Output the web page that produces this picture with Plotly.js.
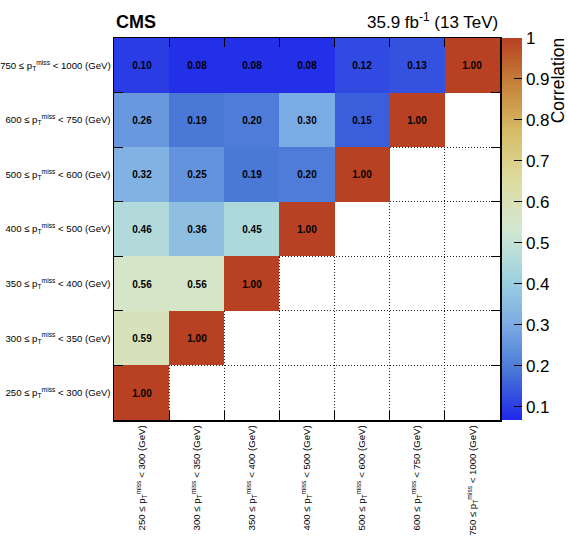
<!DOCTYPE html>
<html>
<head>
<meta charset="utf-8">
<script src="https://cdn.plot.ly/plotly-3.0.1.min.js"></script>
<style>html,body{margin:0;padding:0;background:#fff;}#chart{width:568px;height:553px;}</style>
</head>
<body>
<div id="chart"></div>
<script>
var binLow = [250, 300, 350, 400, 500, 600, 750];
var binHigh = [300, 350, 400, 500, 600, 750, 1000];

// rows: y bins from bottom (250-300) to top (750-1000); columns: x bins
var corrRow0 = [1.00, null, null, null, null, null, null];
var corrRow1 = [0.59, 1.00, null, null, null, null, null];
var corrRow2 = [0.56, 0.56, 1.00, null, null, null, null];
var corrRow3 = [0.46, 0.36, 0.45, 1.00, null, null, null];
var corrRow4 = [0.32, 0.25, 0.19, 0.20, 1.00, null, null];
var corrRow5 = [0.26, 0.19, 0.20, 0.30, 0.15, 1.00, null];
var corrRow6 = [0.10, 0.08, 0.08, 0.08, 0.12, 0.13, 1.00];

var colorbarTicks = [0.1, 0.2, 0.3, 0.4, 0.5, 0.6, 0.7, 0.8, 0.9, 1];
var colorbarTickText = ["0.1", "0.2", "0.3", "0.4", "0.5", "0.6", "0.7", "0.8", "0.9", "1"];

var labels = binLow.map(function (lo, i) {
  return lo + " \u2264 p<sub>T</sub><sup>miss</sup> &lt; " + binHigh[i] + " (GeV)";
});
var z = [corrRow0, corrRow1, corrRow2, corrRow3, corrRow4, corrRow5, corrRow6];

var font = "'Liberation Sans', Arial, Helvetica, sans-serif";

var colorscale = [
  [0.000, "rgb(31,40,234)"],
  [0.125, "rgb(71,117,214)"],
  [0.250, "rgb(123,171,228)"],
  [0.375, "rgb(160,211,222)"],
  [0.500, "rgb(210,231,210)"],
  [0.625, "rgb(222,220,160)"],
  [0.750, "rgb(214,190,105)"],
  [0.875, "rgb(199,132,60)"],
  [1.000, "rgb(183,65,34)"]
];

var trace = {
  type: "heatmap",
  x: labels,
  y: labels,
  z: z,
  zmin: 0.068,
  zmax: 1.0,
  colorscale: colorscale,
  xgap: 0, ygap: 0,
  texttemplate: "<b>%{z:.2f}</b>",
  textfont: {family: font, size: 10, color: "black"},
  hoverongaps: false,
  colorbar: {
    x: 1.005, xanchor: "left", xpad: 0,
    y: 0.5, yanchor: "middle", len: 1, lenmode: "fraction", ypad: 0,
    thickness: 20, thicknessmode: "pixels",
    outlinewidth: 0,
    ticks: "inside", ticklen: 8, tickwidth: 1, tickcolor: "black",
    tickvals: colorbarTicks, ticktext: colorbarTickText,
    tickfont: {family: font, size: 17, color: "black"}
  }
};

var axisCommon = {
  type: "category",
  tickson: "boundaries",
  ticks: "inside",
  ticklen: 9,
  tickwidth: 1,
  tickcolor: "black",
  showline: true,
  linecolor: "black",
  linewidth: 1.5,
  mirror: "ticks",
  showgrid: true,
  gridcolor: "#222",
  gridwidth: 1,
  griddash: "1px,2px",
  zeroline: false,
  tickfont: {family: font, size: 9.6, color: "black"},
  fixedrange: true
};

var layout = {
  width: 568,
  height: 553,
  margin: {l: 114, r: 68, t: 38, b: 133, autoexpand: false},
  paper_bgcolor: "white",
  plot_bgcolor: "white",
  font: {family: font, color: "black"},
  xaxis: Object.assign({}, axisCommon, {tickangle: -90}),
  yaxis: Object.assign({}, axisCommon, {}),
  annotations: [
    {xref: "paper", yref: "paper", x: 0, y: 1, yshift: 4, xanchor: "left", yanchor: "bottom",
     text: "<b>CMS</b>", showarrow: false, font: {family: font, size: 18, color: "black"}},
    {xref: "paper", yref: "paper", x: 1, y: 1, yshift: 4, xanchor: "right", yanchor: "bottom",
     text: "35.9 fb<sup>-1</sup> (13 TeV)", showarrow: false, font: {family: font, size: 17, color: "black"}},
    {xref: "paper", yref: "paper", x: 1.146, xshift: 2, y: 1, yshift: 2, xanchor: "center", yanchor: "top",
     textangle: -90, text: "Correlation", showarrow: false, borderpad: 0,
     font: {family: font, size: 17.5, color: "black"}}
  ]
};

Plotly.newPlot("chart", [trace], layout, {displayModeBar: false, staticPlot: true});
</script>
</body>
</html>
